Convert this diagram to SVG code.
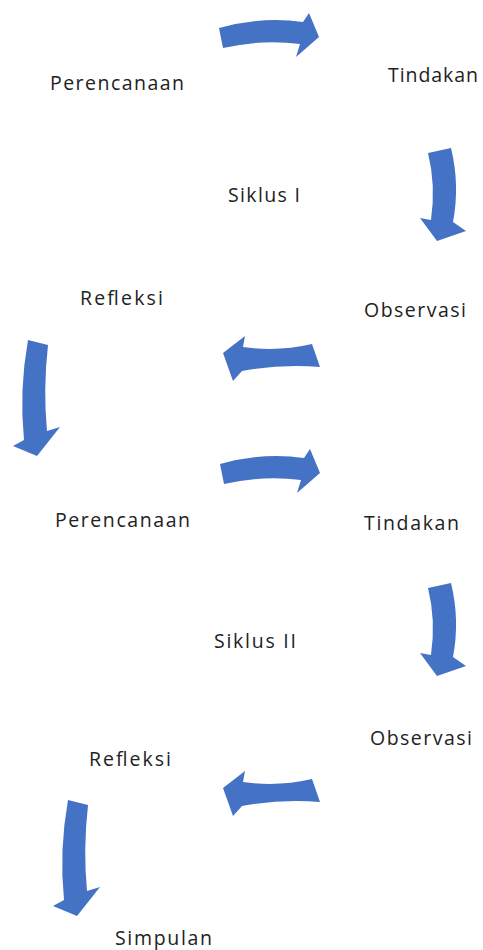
<svg xmlns="http://www.w3.org/2000/svg" xmlns:xlink="http://www.w3.org/1999/xlink" width="483" height="950" viewBox="0 0 483 950">
<style>
.lbl{font-family:"Open Sans","Noto Sans","Liberation Sans",sans-serif;font-size:19.5px;fill:#222;}
.arr{fill:#4472C4;}
</style>
<defs>
<path id="aRight" d="M219,28 Q262,16 303,22 L309,13 L319,37 L296,57 L300,44 Q262,39 223,48 Z"/>
<path id="aDownR" d="M428,153 L451,148 Q460,185 453,222 L466,231 L437,241 L420,218 L431,220 Q436,185 428,153 Z"/>
<path id="aLeft" d="M312,344 L320,367 Q280,364 242,371 L233,381 L223,353 L245,336 L243,347 Q278,352 312,344 Z"/>
<path id="aDownL" d="M28,340 L48,345 Q43,390 47,431 L60,427 L37,456 L13,446 L24,440 Q19,390 28,340 Z"/>
</defs>
<rect width="483" height="950" fill="#fff"/>
<g id="connectors" class="arr">
<use xlink:href="#aRight"/>
<use xlink:href="#aDownR"/>
<use xlink:href="#aLeft"/>
<use xlink:href="#aDownL"/>
<use xlink:href="#aRight" transform="translate(1,436)"/>
<use xlink:href="#aDownR" transform="translate(0,435)"/>
<use xlink:href="#aLeft" transform="translate(0,435)"/>
<use xlink:href="#aDownL" transform="translate(40,460)"/>
</g>
<g id="perencanaan1"><text class="lbl" x="50" y="90" textLength="134" lengthAdjust="spacing">Perencanaan</text></g>
<g id="tindakan1"><text class="lbl" x="388" y="82" textLength="90" lengthAdjust="spacing">Tindakan</text></g>
<g id="siklus1"><text class="lbl" x="228" y="202" textLength="72" lengthAdjust="spacing">Siklus I</text></g>
<g id="refleksi1"><text class="lbl" x="80" y="305" textLength="83" lengthAdjust="spacing">Refleksi</text></g>
<g id="observasi1"><text class="lbl" x="364" y="317" textLength="102" lengthAdjust="spacing">Observasi</text></g>
<g id="perencanaan2"><text class="lbl" x="55" y="527" textLength="135" lengthAdjust="spacing">Perencanaan</text></g>
<g id="tindakan2"><text class="lbl" x="364" y="530" textLength="95" lengthAdjust="spacing">Tindakan</text></g>
<g id="siklus2"><text class="lbl" x="214" y="648" textLength="82" lengthAdjust="spacing">Siklus II</text></g>
<g id="observasi2"><text class="lbl" x="370" y="745" textLength="102" lengthAdjust="spacing">Observasi</text></g>
<g id="refleksi2"><text class="lbl" x="89" y="766" textLength="82" lengthAdjust="spacing">Refleksi</text></g>
<g id="simpulan"><text class="lbl" x="115" y="945" textLength="97" lengthAdjust="spacing">Simpulan</text></g>
</svg>
